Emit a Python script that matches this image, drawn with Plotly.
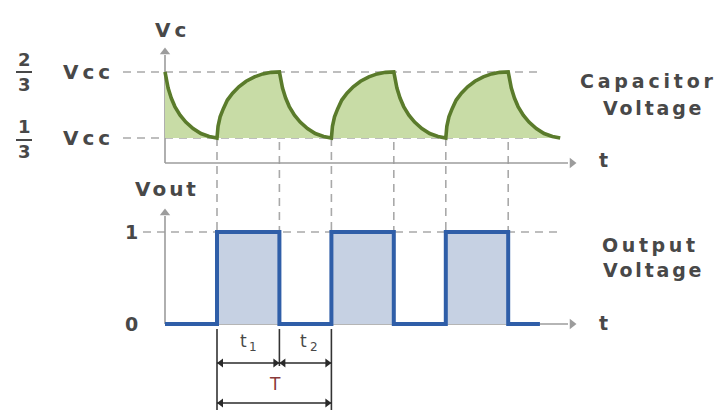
import plotly.graph_objects as go

# ---------------- data ----------------
# switching instants of the 555 timer (time units)
edge_times = [0.0, 1.0, 2.2, 3.2, 4.4, 5.4, 6.6, 7.6]

# capacitor voltage, in fractions of Vcc
t_vc = [0.00, 0.02, 0.06, 0.12, 0.19, 0.29, 0.40, 0.54, 0.69, 0.85, 1.00,
        1.02, 1.06, 1.12, 1.20, 1.30, 1.42, 1.56, 1.72, 1.88, 2.04, 2.20,
        2.22, 2.26, 2.32, 2.39, 2.49, 2.60, 2.74, 2.89, 3.05, 3.20,
        3.22, 3.26, 3.32, 3.40, 3.50, 3.62, 3.76, 3.92, 4.08, 4.24, 4.40,
        4.42, 4.46, 4.52, 4.59, 4.69, 4.80, 4.94, 5.09, 5.25, 5.40,
        5.42, 5.46, 5.52, 5.60, 5.70, 5.82, 5.96, 6.12, 6.28, 6.44, 6.60,
        6.62, 6.66, 6.72, 6.79, 6.89, 7.00, 7.14, 7.29, 7.45, 7.60]
vc = [0.667, 0.636, 0.586, 0.535, 0.492, 0.449, 0.414, 0.381, 0.356, 0.341, 0.333,
      0.392, 0.440, 0.480, 0.525, 0.560, 0.592, 0.620, 0.642, 0.657, 0.665, 0.667,
      0.636, 0.586, 0.535, 0.492, 0.449, 0.414, 0.381, 0.356, 0.341, 0.333,
      0.392, 0.440, 0.480, 0.525, 0.560, 0.592, 0.620, 0.642, 0.657, 0.665, 0.667,
      0.636, 0.586, 0.535, 0.492, 0.449, 0.414, 0.381, 0.356, 0.341, 0.333,
      0.392, 0.440, 0.480, 0.525, 0.560, 0.592, 0.620, 0.642, 0.657, 0.665, 0.667,
      0.636, 0.586, 0.535, 0.492, 0.449, 0.414, 0.381, 0.356, 0.341, 0.333]

# output voltage (logic level)
t_out = [0.0, 1.0, 1.0, 2.2, 2.2, 3.2, 3.2, 4.4, 4.4, 5.4, 5.4, 6.6, 6.6, 7.21]
vout = [0, 0, 1, 1, 0, 0, 1, 1, 0, 0, 1, 1, 0, 0]

vc_low, vc_high = 1 / 3, 2 / 3
vc_level_nums = ["1", "2"]
vc_level_den = "3"
out_levels = [0, 1]
out_level_labels = ["0", "1"]

# ---------------- geometry helpers (page pixels) ----------------
PAGE_W, PAGE_H = 722, 410
OFF = 8                      # default page margin around the figure
W, H = PAGE_W - OFF, PAGE_H - OFF
X0_PX, PX_PER_T = 165, 52
VC_LO_PX, VC_PX_PER_V = 138, 198
OUT0_PX, OUT_PX_PER_V = 324, 92


def t_of_px(px):
    return (px - X0_PX) / PX_PER_T


def vc_of_px(py):
    return 1 / 3 + (VC_LO_PX - py) / VC_PX_PER_V


def out_of_px(py):
    return (OUT0_PX - py) / OUT_PX_PER_V


def px_of_vc(v):
    return VC_LO_PX - (v - 1 / 3) * VC_PX_PER_V


def PX(x):
    return (x - OFF) / W


def PY(y):
    return 1 - (y - OFF) / H


GREEN = "#5a7b2b"
GREEN_FILL = "#c8dca6"
BLUE = "#2f5ea8"
BLUE_FILL = "#c6d1e3"
GRID = "#a9a9a9"
AXIS = "#9c9c9c"
TXT = "#484848"
DARK = "#2a2a2a"
FONT = "DejaVu Sans, Verdana, sans-serif"

fig = go.Figure()

# green fill between the curve and the 1/3 Vcc level
fig.add_trace(go.Scatter(x=[t_vc[0], t_vc[-1]], y=[vc_low, vc_low], mode="lines",
                         line=dict(width=0), hoverinfo="skip", showlegend=False))
fig.add_trace(go.Scatter(x=t_vc, y=vc, mode="lines", fill="tonexty", fillcolor=GREEN_FILL,
                         line=dict(color=GREEN, width=3.6), hoverinfo="skip", showlegend=False))

# output square wave
fig.add_trace(go.Scatter(x=t_out, y=vout, mode="lines", fill="tozeroy", fillcolor=BLUE_FILL,
                         line=dict(color=BLUE, width=4), yaxis="y2",
                         hoverinfo="skip", showlegend=False))

# axis arrowheads (markers)
fig.add_trace(go.Scatter(x=[0], y=[vc_of_px(52)], mode="markers", hoverinfo="skip",
                         marker=dict(symbol="triangle-up", size=9, color=AXIS), showlegend=False))
fig.add_trace(go.Scatter(x=[t_of_px(572)], y=[vc_of_px(163)], mode="markers", hoverinfo="skip",
                         marker=dict(symbol="triangle-right", size=9, color=AXIS), showlegend=False))
fig.add_trace(go.Scatter(x=[0], y=[out_of_px(213)], mode="markers", yaxis="y2", hoverinfo="skip",
                         marker=dict(symbol="triangle-up", size=9, color=AXIS), showlegend=False))
fig.add_trace(go.Scatter(x=[t_of_px(572)], y=[0], mode="markers", yaxis="y2", hoverinfo="skip",
                         marker=dict(symbol="triangle-right", size=9, color=AXIS), showlegend=False))

shapes = []
dash = "8px,6px"
# horizontal dashed guides
for v in (vc_low, vc_high):
    shapes.append(dict(type="line", xref="x", yref="y", x0=t_of_px(123), x1=t_of_px(540),
                       y0=v, y1=v, line=dict(color=GRID, width=1.6, dash=dash), layer="below"))
shapes.append(dict(type="line", xref="x", yref="y2", x0=t_of_px(143), x1=t_of_px(560),
                   y0=1, y1=1, line=dict(color=GRID, width=1.6, dash=dash), layer="below"))
# vertical dashed guides at each switching instant
for k, te in enumerate(edge_times[1:-1]):
    level = vc_low if k % 2 == 0 else vc_high
    shapes.append(dict(type="line", xref="x", yref="y2", x0=te, x1=te,
                       y0=out_of_px(px_of_vc(level)), y1=1,
                       line=dict(color=GRID, width=1.6, dash=dash), layer="below"))
# axes lines
shapes.append(dict(type="line", xref="x", yref="y", x0=0, x1=0, y0=vc_of_px(163), y1=vc_of_px(55),
                   line=dict(color=AXIS, width=1.6), layer="below"))
shapes.append(dict(type="line", xref="x", yref="y", x0=0, x1=t_of_px(568), y0=vc_of_px(163),
                   y1=vc_of_px(163), line=dict(color=AXIS, width=1.6), layer="below"))
shapes.append(dict(type="line", xref="x", yref="y2", x0=0, x1=0, y0=0, y1=out_of_px(216),
                   line=dict(color=AXIS, width=1.6), layer="below"))
shapes.append(dict(type="line", xref="x", yref="y2", x0=0, x1=t_of_px(568), y0=0, y1=0,
                   line=dict(color=AXIS, width=1.6), layer="below"))
# timing marker lines
t1_a, t1_b, t2_b = edge_times[1], edge_times[2], edge_times[3]
for te, ybot in ((t1_a, 410), (t1_b, 366), (t2_b, 410)):
    shapes.append(dict(type="line", xref="x", yref="y2", x0=te, x1=te, y0=out_of_px(329),
                       y1=out_of_px(ybot), line=dict(color="#333333", width=1.6)))
# timing double arrows (line + heads)
arrow_specs = [(t1_a, t1_b, 363), (t1_b, t2_b, 363), (t1_a, t2_b, 403)]
head_x_l, head_x_r, head_y = [], [], []
for xa, xb, ypx in arrow_specs:
    shapes.append(dict(type="line", xref="x", yref="y2", x0=xa, x1=xb,
                       y0=out_of_px(ypx), y1=out_of_px(ypx), line=dict(color=DARK, width=1.5)))
    head_x_l.append(xa + 4 / PX_PER_T)
    head_x_r.append(xb - 4 / PX_PER_T)
    head_y.append(out_of_px(ypx))
fig.add_trace(go.Scatter(x=head_x_l, y=head_y, mode="markers", yaxis="y2", hoverinfo="skip",
                         marker=dict(symbol="triangle-left", size=8, color=DARK), showlegend=False))
fig.add_trace(go.Scatter(x=head_x_r, y=head_y, mode="markers", yaxis="y2", hoverinfo="skip",
                         marker=dict(symbol="triangle-right", size=8, color=DARK), showlegend=False))
# fraction bars
for ybar in (72, 140):
    shapes.append(dict(type="line", xref="paper", yref="paper", x0=PX(16), x1=PX(32),
                       y0=PY(ybar), y1=PY(ybar), line=dict(color=TXT, width=2)))

ann = []


def label(text, x, y, size, color=TXT, spacing=0, bold=True):
    if spacing:
        text = f'<span style="letter-spacing:{spacing}px">{text}</span>'
        x += spacing / 2
    ann.append(dict(x=PX(x), y=PY(y), xref="paper", yref="paper", text=text, showarrow=False,
                    xanchor="center", yanchor="middle",
                    font=dict(family=FONT, size=size, color=color,
                              weight="bold" if bold else "normal")))


label("Vc", 170, 30, 20, spacing=4)
label("Vout", 165, 189, 20, spacing=3)
# fraction labels for Vcc levels
for num, ynum, yden, yv in ((vc_level_nums[1], 60, 85, 72), (vc_level_nums[0], 126, 151, 138)):
    label(num, 24, ynum, 18)
    label(vc_level_den, 24, yden, 18)
    label("Vcc", 86, yv, 20, spacing=4)
for lv, lab in zip(out_levels, out_level_labels):
    label(lab, 131, OUT0_PX - lv * OUT_PX_PER_V, 19)
label("t", 603, 160, 19)
label("t", 603, 323, 19)
label("Capacitor", 647, 81, 19, spacing=3.8)
label("Voltage", 652, 108, 19, spacing=2.8)
label("Output", 649, 245, 19, spacing=3.6)
label("Voltage", 652, 270, 19, spacing=2.8)
# t1 / t2 with subscripts as separate small labels
label("t", 243, 341, 17, bold=False)
label("1", 253, 347, 12, bold=False)
label("t", 303, 341, 17, bold=False)
label("2", 314, 347, 12, bold=False)
label("T", 275, 384, 17, color="#8a3b3b", bold=False)

fig.update_layout(
    width=W, height=H, margin=dict(l=0, r=0, t=0, b=0),
    paper_bgcolor="white", plot_bgcolor="white", showlegend=False,
    xaxis=dict(visible=False, range=[t_of_px(OFF), t_of_px(PAGE_W)], fixedrange=True),
    yaxis=dict(visible=False, range=[vc_of_px(PAGE_H), vc_of_px(OFF)], fixedrange=True),
    yaxis2=dict(visible=False, overlaying="y", range=[out_of_px(PAGE_H), out_of_px(OFF)],
                fixedrange=True),
    shapes=shapes, annotations=ann,
)

fig.write_html("out.html")
